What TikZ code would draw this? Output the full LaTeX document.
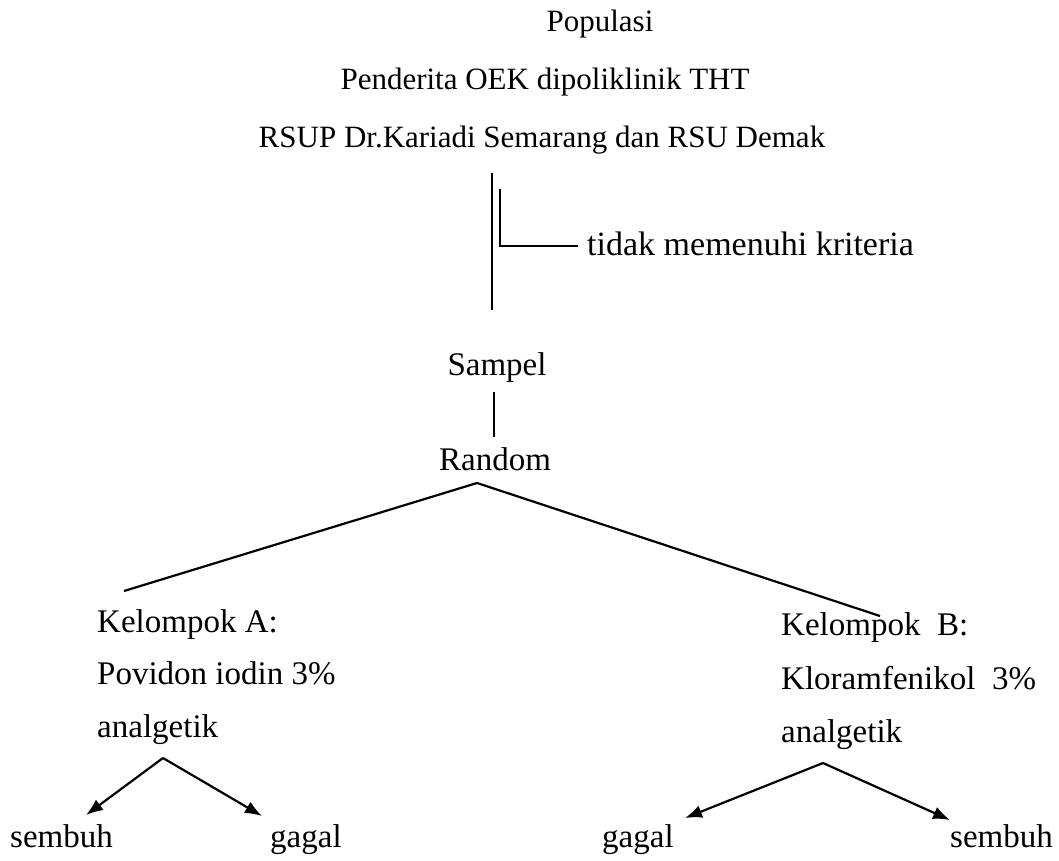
\documentclass[tikz,border=0pt]{standalone}
\usepackage{fontspec}
\setmainfont{Liberation Serif}
\usetikzlibrary{arrows.meta}
\begin{document}
\begin{tikzpicture}[x=1pt,y=-1pt,
  txt/.style={inner sep=0pt, font=\fontsize{33}{40}\selectfont, anchor=base west},
  ctxt/.style={inner sep=0pt, font=\fontsize{33}{40}\selectfont, anchor=base},
  htxt/.style={inner sep=0pt, font=\fontsize{31}{38}\selectfont, anchor=base},
  ln/.style={line width=2.2pt},
  arr/.style={line width=2.2pt, -{Latex[length=17pt,width=13pt]}}]
\useasboundingbox[fill=white] (0,0) rectangle (1059,860);
% header
\node[htxt] (pop) at (600,31) {Populasi};
\node[htxt] (pend) at (545,89) {Penderita OEK dipoliklinik THT};
\node[htxt] (rsup) at (542,147) {RSUP Dr.Kariadi Semarang dan RSU Demak};
% exclusion
\coordinate (v1) at (492,173);
\coordinate (v2) at (492,310);
\coordinate (e1) at (500,189);
\coordinate (e2) at (500,246);
\coordinate (e3) at (578,246);
\node[txt, font=\fontsize{34}{40}\selectfont] (tidak) at (587,255) {tidak memenuhi kriteria};
\draw[ln] (v1) -- (v2);
\draw[ln] (e1) -- (e2) -- (e3);
% sample and random
\node[ctxt] (sampel) at (497,375) {Sampel};
\node[ctxt] (random) at (495,470) {Random};
\draw[ln] (494,392) -- (494,437);
% branches
\coordinate (apex) at (477,483);
\coordinate (lend) at (124,591);
\coordinate (rend) at (880,616);
\draw[ln] (lend) -- (apex) -- (rend);
% groups
\node[txt] (ka) at (97,632) {Kelompok A:};
\node[txt] (pa) at (97,684) {Povidon iodin 3\%};
\node[txt] (aa) at (97,737) {analgetik};
\node[txt] (kb) at (781,635) {Kelompok\ \ B:};
\node[txt] (pb) at (781,689) {Kloramfenikol\ \ 3\%};
\node[txt] (ab) at (781,742) {analgetik};
% outcomes
\node[txt] (s1) at (10,847) {sembuh};
\node[txt] (g1) at (270,847) {gagal};
\node[txt] (g2) at (602,847) {gagal};
\node[txt] (s2) at (950,847) {sembuh};
\coordinate (la) at (163,758);
\coordinate (ra) at (823,763);
\draw[arr] (la) -- (86,815);
\draw[arr] (la) -- (262,816);
\draw[arr] (ra) -- (685,818);
\draw[arr] (ra) -- (950,820);
\end{tikzpicture}
\end{document}
